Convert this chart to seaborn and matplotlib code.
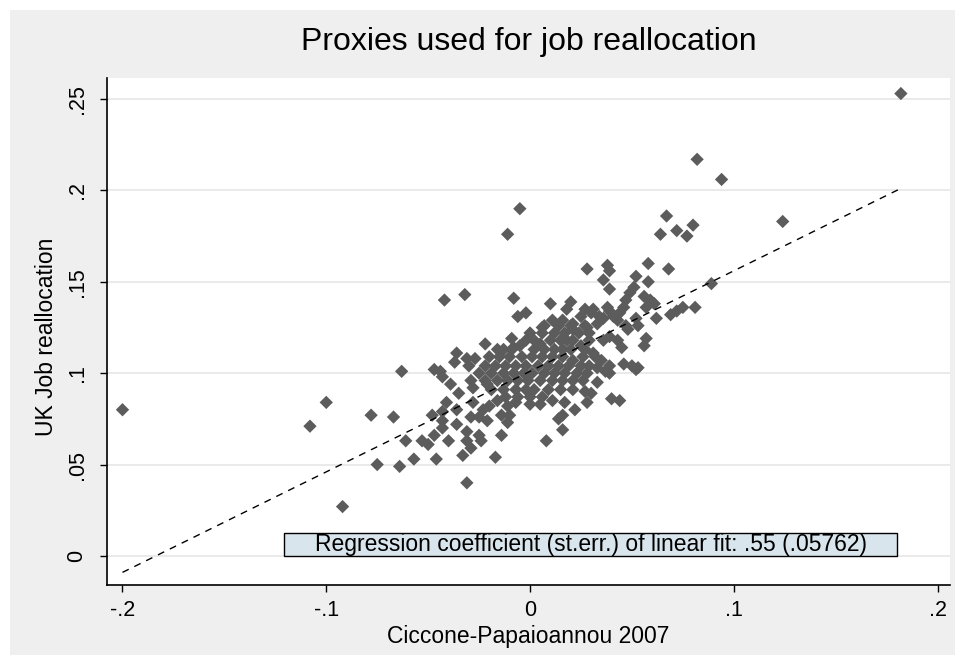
import numpy as np
import pandas as pd
import matplotlib
matplotlib.use("Agg")
import matplotlib.pyplot as plt
from matplotlib.patches import Rectangle
import seaborn as sns

# Ciccone-Papaioannou 2007 (x) vs UK job reallocation (y)
cp2007 = [
    -.200, -.108, -.100, -.092, -.078, -.067, -.075, -.064, -.063, -.057,
    -.046, -.061, -.053, -.050, -.047, -.043, -.040, -.048, -.043, -.041,
    -.043, -.036, -.036, -.039, -.047, -.044, -.043, -.037, -.042, -.032,
    -.008, .010, -.006, -.002, -.022, -.009, -.036, -.031, -.027, -.020,
    -.016, -.013, -.030, -.029, -.021, -.035, -.028, -.028, -.029, -.031,
    -.025, -.024, -.031, -.029, -.033, -.017, -.014, -.011, -.010, -.014,
    -.021, -.025, -.023, -.016, -.020, -.011, -.007, .000, .008, .011,
    .017, .022, .016, .014, .016, .027, .028, .021, -.031, .028,
    .038, .039, .036, .039, .058, .068, .052, .058, .051, .049,
    .047, .046, .044, .056, .059, .061, .057, .062, .069, .072,
    .075, .081, .089, .020, .027, .031, .038, .039, .036, .043,
    .047, .053, .048, .043, .045, .057, .056, .046, .050, .053,
    .035, .039, .033, .037, .031, .036, .039, .028, .025, .033,
    .021, .016, .018, .025, .026, .021, .016, .018, .039, .052,
    .033, .030, .040, .044, .182, .082, .094, .067, .124, .080,
    .072, .077, .064, -.005, -.004, .002, .005, .006, .011, .021,
    .030, .034, .041, .052, -.005, -.011, -.008,
]
uk_jr = [
    .080, .071, .084, .027, .077, .076, .050, .049, .101, .053,
    .053, .063, .063, .061, .066, .070, .063, .077, .074, .084,
    .079, .080, .072, .094, .102, .101, .098, .106, .140, .143,
    .141, .138, .131, .133, .116, .119, .111, .108, .108, .109,
    .113, .113, .104, .096, .094, .089, .092, .084, .076, .068,
    .066, .063, .063, .059, .055, .054, .066, .073, .077, .077,
    .074, .076, .080, .085, .082, .082, .084, .083, .063, .085,
    .084, .080, .077, .075, .069, .090, .084, .096, .040, .157,
    .159, .156, .151, .146, .160, .157, .153, .150, .147, .144,
    .140, .136, .133, .142, .140, .138, .136, .130, .132, .134,
    .136, .136, .149, .139, .135, .135, .136, .134, .130, .129,
    .126, .126, .124, .118, .114, .119, .115, .105, .104, .103,
    .107, .104, .103, .101, .111, .118, .120, .125, .131, .127,
    .124, .129, .118, .115, .109, .107, .113, .135, .100, .102,
    .095, .089, .086, .085, .253, .217, .206, .186, .183, .181,
    .178, .175, .176, .115, .109, .113, .116, .125, .129, .127,
    .133, .131, .131, .130, .190, .176, .114,
]

# the dense middle of the cloud
core_x = [
    .007, .014, .020, .027,
    .000, .006, .012, .017, .024, .029,
    -.002, .002, .010, .015, .021, .029,
    -.009, .007, .012, .020, .027,
    -.015, -.010, .001, .006, .011, .016, .032,
    -.022, -.017, -.012, -.007, -.002, .004, .009, .014, .019, .025, .029,
    -.025, -.019, -.013, -.008, -.003, .001, .007, .012, .017, .023, .028,
    -.022, -.016, -.011, -.006, -.001, .005, .011, .016, .026,
    -.019, -.013, -.007, -.002, .002, .009, .015, .021,
    -.012, -.006, .000, .006,
    .005,
]
core_y = [
    .126, .126, .126, .126,
    .122, .122, .122, .122, .122, .122,
    .118, .118, .118, .118, .118, .118,
    .113, .113, .113, .113, .113,
    .109, .109, .109, .109, .109, .109, .109,
    .104, .104, .104, .104, .104, .104, .104, .104, .104, .104, .104,
    .100, .100, .100, .100, .100, .100, .100, .100, .100, .100, .100,
    .096, .096, .096, .096, .096, .096, .096, .096, .096,
    .091, .091, .091, .091, .091, .091, .091, .091,
    .087, .087, .087, .087,
    .083,
]

fit_slope = 0.55
fit_se = 0.05762
fit_intercept = 0.101

x_ticks = [-.2, -.1, 0, .1, .2]
x_ticklabels = ["-.2", "-.1", "0", ".1", ".2"]
y_ticks = [0, .05, .1, .15, .2, .25]
y_ticklabels = ["0", ".05", ".1", ".15", ".2", ".25"]

df = pd.DataFrame({
    "cp2007": cp2007 + core_x,
    "uk_jr": uk_jr + core_y,
})

sns.set_theme(style="white")
plt.rcParams["font.family"] = ["Liberation Sans", "DejaVu Sans"]

W, H = 965, 664
fig = plt.figure(figsize=(W / 100, H / 100), dpi=100)
fig.patch.set_facecolor("white")

# grey graph region behind the plot
bg = fig.add_axes([10 / W, 1 - 655 / H, 945 / W, 645 / H], zorder=-10)
bg.set_facecolor("#efefef")
bg.set_xticks([])
bg.set_yticks([])
for s in bg.spines.values():
    s.set_visible(False)

ax = fig.add_axes([107 / W, 1 - 585 / H, 843 / W, 507 / H])
ax.set_facecolor("white")

sns.scatterplot(data=df, x="cp2007", y="uk_jr", marker="D", s=46,
                color="#5c5c5c", edgecolor="none", linewidth=0, ax=ax, zorder=3)

xs = np.array([df.cp2007.min(), df.cp2007.max()])
ax.plot(xs, fit_intercept + fit_slope * xs, color="black", lw=1,
        ls=(0, (5, 4.5)), zorder=4)

ax.set_xlim(-0.2076, 0.2061)
ax.set_ylim(-0.0159, 0.2615)

ax.set_xticks(x_ticks)
ax.set_xticklabels(x_ticklabels)
ax.set_yticks(y_ticks)
ax.set_yticklabels(y_ticklabels, rotation=90, va="center")
ax.tick_params(axis="both", direction="out", length=5, width=1, color="black",
               labelsize=15.5, labelcolor="black", bottom=True, left=True)
ax.tick_params(axis="x", pad=6)
ax.tick_params(axis="y", pad=9)

ax.yaxis.grid(True, color="#e6e6e6", lw=1.2)
ax.xaxis.grid(False)
ax.set_axisbelow(True)

for side in ["top", "right"]:
    ax.spines[side].set_visible(False)
for side in ["left", "bottom"]:
    ax.spines[side].set_color("black")
    ax.spines[side].set_linewidth(1.2)

ax.set_xlabel("Ciccone-Papaioannou 2007", fontsize=16.5, color="black")
ax.xaxis.label.set_va("center")
ax.xaxis.set_label_coords(0.5, (585 - 636) / 507)
ax.set_ylabel("UK Job reallocation", fontsize=16.5, color="black")
ax.yaxis.label.set_va("center")
ax.yaxis.set_label_coords((47 - 107) / 843, (585 - 337) / 507)

ax.set_title("Proxies used for job reallocation", fontsize=23, color="black",
             y=(585 - 50) / 507, va="center")

# text box with the fit result
ax.add_patch(Rectangle((-0.1207, 0.0), 0.3007, 0.0126, facecolor="#d9e5ec",
                       edgecolor="black", lw=1, zorder=5))
ax.text(0.0297, 0.0063,
        f"Regression coefficient (st.err.) of linear fit: {fit_slope:.2f}".replace("0.", ".")
        + f" ({fit_se:.5f})".replace("0.", "."),
        ha="center", va="center", fontsize=16.5, color="black", zorder=6)

fig.savefig("out.png", dpi=100, facecolor=fig.get_facecolor())
